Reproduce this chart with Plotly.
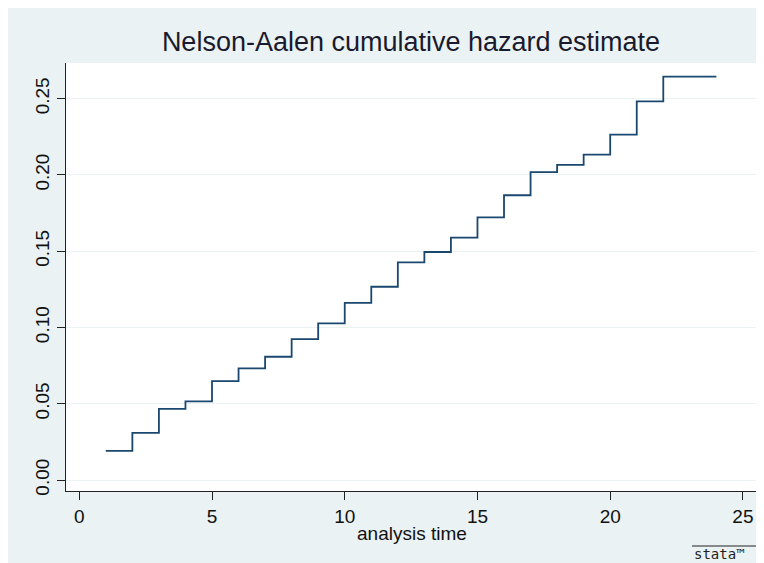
import plotly.graph_objects as go

# Data
analysis_time = [1, 2, 3, 4, 5, 6, 7, 8, 9, 10, 11, 12, 13, 14, 15, 16, 17, 18, 19, 20, 21, 22]
cum_hazard = [0.0191, 0.0309, 0.0467, 0.0515, 0.0648, 0.0732, 0.0808, 0.0924, 0.1027,
              0.1162, 0.1267, 0.1427, 0.1495, 0.1589, 0.1722, 0.1867, 0.2018, 0.2066,
              0.2133, 0.2264, 0.2483, 0.2645]
last_time = 24
x_ticks = [0, 5, 10, 15, 20, 25]
y_ticks = [0.00, 0.05, 0.10, 0.15, 0.20, 0.25]

title_text = "Nelson-Aalen cumulative hazard estimate"
x_title = "analysis time"

BG = "#EAF2F3"
LINE = "#1A476F"
FONT = "Liberation Sans, Arial, sans-serif"

xs = analysis_time + [last_time]
ys = cum_hazard + [cum_hazard[-1]]

fig = go.Figure()
fig.add_trace(go.Scatter(x=xs, y=ys, mode="lines", line=dict(shape="hv", color=LINE, width=1.8),
                         showlegend=False, hoverinfo="skip"))

W, H = 764, 563
OFF = 8  # page body margin in the browser
ml, mr, mt, mb = 58, 15, 55, 80
pw = W - ml - mr
ph = H - mt - mb

def px_to_paper_x(px):
    return (px - OFF - ml) / pw

def px_to_paper_y(py):
    return (H - mb - (py - OFF)) / ph

shapes = [
    # stata logo overline
    dict(type="line", xref="paper", yref="paper",
         x0=px_to_paper_x(692), x1=px_to_paper_x(772), y0=px_to_paper_y(546), y1=px_to_paper_y(546),
         line=dict(color="#222222", width=1.2)),
]

fig.update_layout(
    width=W, height=H,
    margin=dict(l=ml, r=mr, t=mt, b=mb),
    paper_bgcolor=BG, plot_bgcolor="white",
    font=dict(family=FONT, color="#111111"),
    title=dict(text=title_text, x=(411 - OFF) / W, xanchor="center",
               y=1 - (42 - OFF) / H, yanchor="middle", font=dict(size=27, color="#1a1a2e", family=FONT)),
    shapes=shapes,
    annotations=[
        dict(text=x_title, xref="paper", yref="paper", x=0.5, y=px_to_paper_y(533),
             xanchor="center", yanchor="middle", showarrow=False,
             font=dict(size=19, color="#111111", family=FONT)),
        dict(text="stata™", xref="paper", yref="paper", x=px_to_paper_x(692), y=px_to_paper_y(554),
             xanchor="left", yanchor="middle", showarrow=False,
             font=dict(size=14, color="#222222", family="DejaVu Sans Mono, monospace")),
    ],
)

fig.update_xaxes(range=[-0.5, 25.53], tickvals=x_ticks, ticktext=[str(v) for v in x_ticks],
                 showgrid=False, zeroline=False, showline=True, linecolor="#222222", linewidth=1.2,
                 ticks="outside", ticklen=8, tickcolor="#222222", tickwidth=1.2,
                 tickfont=dict(size=19, color="#111111", family=FONT))
fig.update_yaxes(range=[-0.0072, 0.2734], tickvals=y_ticks, ticktext=[f"{v:.2f}" for v in y_ticks],
                 showgrid=True, gridcolor=BG, gridwidth=1.2, zeroline=False,
                 showline=True, linecolor="#222222", linewidth=1.2,
                 ticks="outside", ticklen=8, tickcolor="#222222", tickwidth=1.2, tickangle=-90,
                 tickfont=dict(size=19, color="#111111", family=FONT))

fig.write_html("out.html")
